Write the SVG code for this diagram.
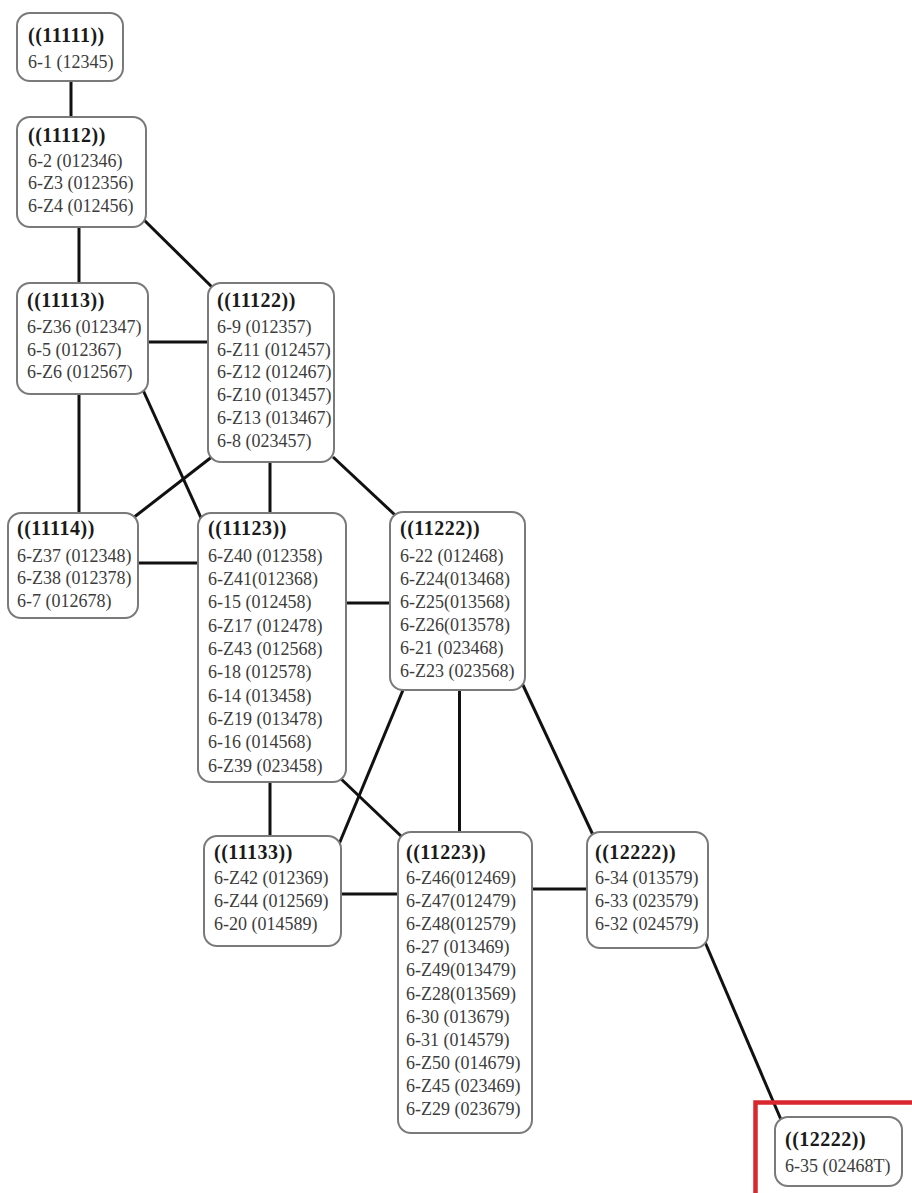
<svg xmlns="http://www.w3.org/2000/svg" width="912" height="1193" viewBox="0 0 912 1193">
<style>
.box{fill:#fff;stroke:#7a7a7a;stroke-width:2}
.hd{font-family:"Liberation Serif",serif;font-weight:bold;font-size:20px;letter-spacing:0.5px;fill:#1a1a1a}
.it{font-family:"Liberation Serif",serif;font-size:18px;fill:#3c3c3c}
.edges line{stroke:#111;stroke-width:3;stroke-linecap:butt}
</style>
<rect width="912" height="1193" fill="#fff"/>
<g class="edges" id="connectors">
<line x1="71" y1="81" x2="71" y2="117"/>
<line x1="79" y1="227" x2="79" y2="283"/>
<line x1="142" y1="218" x2="213" y2="288"/>
<line x1="148" y1="342" x2="208" y2="342"/>
<line x1="79" y1="394" x2="79" y2="513"/>
<line x1="143" y1="390" x2="202" y2="520"/>
<line x1="213" y1="456" x2="133" y2="518"/>
<line x1="270" y1="462" x2="270" y2="513"/>
<line x1="333" y1="457" x2="395" y2="515"/>
<line x1="138" y1="563" x2="198" y2="563"/>
<line x1="346" y1="603" x2="390" y2="603"/>
<line x1="403" y1="690" x2="337" y2="849"/>
<line x1="459.5" y1="690" x2="459.5" y2="832"/>
<line x1="522" y1="683" x2="593" y2="835"/>
<line x1="270" y1="782" x2="270" y2="836"/>
<line x1="338" y1="776" x2="402" y2="837"/>
<line x1="341" y1="894" x2="398" y2="894"/>
<line x1="532" y1="889" x2="587" y2="889"/>
<line x1="705" y1="942" x2="782" y2="1122"/>
</g>
<g id="n11111">
<rect class="box" x="17" y="13" width="106" height="68" rx="13"/>
<text class="hd" x="28" y="42">((11111))</text>
<text class="it" x="28" y="68">6-1 (12345)</text>
</g>
<g id="n11112">
<rect class="box" x="17" y="117" width="129" height="110" rx="13"/>
<text class="hd" x="28" y="141.5">((11112))</text>
<text class="it" x="28" y="166.5">6-2 (012346)</text>
<text class="it" x="28" y="189">6-Z3 (012356)</text>
<text class="it" x="28" y="211.5">6-Z4 (012456)</text>
</g>
<g id="n11113">
<rect class="box" x="17" y="283" width="131" height="111" rx="13"/>
<text class="hd" x="27" y="306.5">((11113))</text>
<text class="it" x="27" y="333">6-Z36 (012347)</text>
<text class="it" x="27" y="355.5">6-5 (012367)</text>
<text class="it" x="27" y="378">6-Z6 (012567)</text>
</g>
<g id="n11122">
<rect class="box" x="208" y="283" width="126" height="179" rx="13"/>
<text class="hd" x="217" y="306.5">((11122))</text>
<text class="it" x="217" y="333">6-9 (012357)</text>
<text class="it" x="217" y="355.7">6-Z11 (012457)</text>
<text class="it" x="217" y="378.4">6-Z12 (012467)</text>
<text class="it" x="217" y="401.1">6-Z10 (013457)</text>
<text class="it" x="217" y="423.8">6-Z13 (013467)</text>
<text class="it" x="217" y="446.5">6-8 (023457)</text>
</g>
<g id="n11114">
<rect class="box" x="8" y="513" width="130" height="105" rx="13"/>
<text class="hd" x="17" y="535">((11114))</text>
<text class="it" x="17" y="561.7">6-Z37 (012348)</text>
<text class="it" x="17" y="584.4">6-Z38 (012378)</text>
<text class="it" x="17" y="607">6-7 (012678)</text>
</g>
<g id="n11123">
<rect class="box" x="198" y="513" width="148" height="269" rx="13"/>
<text class="hd" x="208" y="535">((11123))</text>
<text class="it" x="208" y="561.7">6-Z40 (012358)</text>
<text class="it" x="208" y="585">6-Z41(012368)</text>
<text class="it" x="208" y="608.4">6-15 (012458)</text>
<text class="it" x="208" y="631.7">6-Z17 (012478)</text>
<text class="it" x="208" y="655">6-Z43 (012568)</text>
<text class="it" x="208" y="678.4">6-18 (012578)</text>
<text class="it" x="208" y="701.7">6-14 (013458)</text>
<text class="it" x="208" y="725">6-Z19 (013478)</text>
<text class="it" x="208" y="748.4">6-16 (014568)</text>
<text class="it" x="208" y="771.7">6-Z39 (023458)</text>
</g>
<g id="n11222">
<rect class="box" x="390" y="512" width="135" height="178" rx="13"/>
<text class="hd" x="400" y="535">((11222))</text>
<text class="it" x="400" y="561.7">6-22 (012468)</text>
<text class="it" x="400" y="584.7">6-Z24(013468)</text>
<text class="it" x="400" y="607.7">6-Z25(013568)</text>
<text class="it" x="400" y="630.7">6-Z26(013578)</text>
<text class="it" x="400" y="653.7">6-21 (023468)</text>
<text class="it" x="400" y="676.7">6-Z23 (023568)</text>
</g>
<g id="n11133">
<rect class="box" x="204" y="836" width="137" height="110" rx="13"/>
<text class="hd" x="214" y="859">((11133))</text>
<text class="it" x="214" y="884">6-Z42 (012369)</text>
<text class="it" x="214" y="907">6-Z44 (012569)</text>
<text class="it" x="214" y="930">6-20 (014589)</text>
</g>
<g id="n11223">
<rect class="box" x="398" y="832" width="134" height="301" rx="13"/>
<text class="hd" x="406" y="859">((11223))</text>
<text class="it" x="406" y="884">6-Z46(012469)</text>
<text class="it" x="406" y="907.1">6-Z47(012479)</text>
<text class="it" x="406" y="930.2">6-Z48(012579)</text>
<text class="it" x="406" y="953.3">6-27 (013469)</text>
<text class="it" x="406" y="976.4">6-Z49(013479)</text>
<text class="it" x="406" y="999.5">6-Z28(013569)</text>
<text class="it" x="406" y="1022.6">6-30 (013679)</text>
<text class="it" x="406" y="1045.7">6-31 (014579)</text>
<text class="it" x="406" y="1068.8">6-Z50 (014679)</text>
<text class="it" x="406" y="1091.9">6-Z45 (023469)</text>
<text class="it" x="406" y="1115">6-Z29 (023679)</text>
</g>
<g id="n12222a">
<rect class="box" x="587" y="832" width="121" height="116" rx="13"/>
<text class="hd" x="595" y="859">((12222))</text>
<text class="it" x="595" y="884">6-34 (013579)</text>
<text class="it" x="595" y="907">6-33 (023579)</text>
<text class="it" x="595" y="930">6-32 (024579)</text>
</g>
<g id="n12222b">
<rect class="box" x="775" y="1117" width="127" height="69" rx="13"/>
<text class="hd" x="785" y="1146">((12222))</text>
<text class="it" x="785" y="1172">6-35 (02468T)</text>
</g>
<rect id="highlight" x="755.5" y="1102.5" width="200" height="200" fill="none" stroke="#d7282f" stroke-width="4.5"/>
</svg>
